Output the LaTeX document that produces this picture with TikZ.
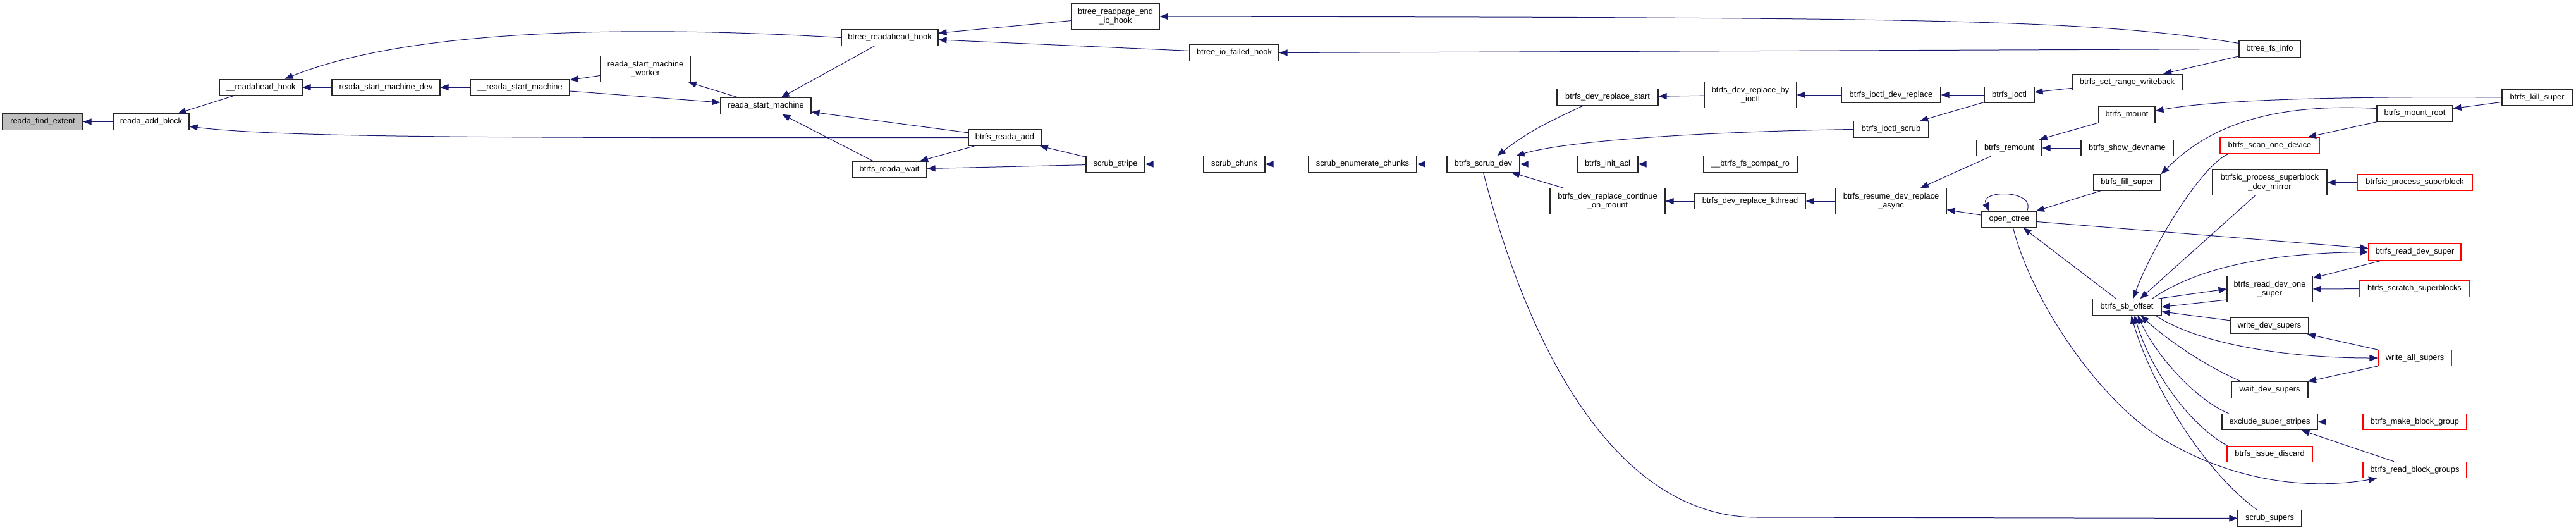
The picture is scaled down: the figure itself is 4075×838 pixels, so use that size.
\documentclass[tikz,border=0pt]{standalone}
\usepackage{fontspec}
\setmainfont{Liberation Sans}
\usepackage{tikz}
\usetikzlibrary{arrows.meta}
\definecolor{graphEdge}{HTML}{191970}
\definecolor{graphRoot}{HTML}{BFBFBF}
\definecolor{graphTrunc}{HTML}{FF0000}
\tikzset{
  fnbox/.style={draw=black!85, fill=white, line width=1.1pt, inner sep=0pt, minimum height=25.5pt, align=center, font=\fontsize{12.8}{14.3}\selectfont},
  fnroot/.style={fnbox, fill=graphRoot},
  fntrunc/.style={fnbox, draw=graphTrunc},
  fntwo/.style={minimum height=40.5pt},
  fnarrow/.style={-{Triangle[length=13pt,width=10pt]}, line width=1pt, draw=graphEdge}
}
\begin{document}
\begin{tikzpicture}[x=1pt, y=-1pt]
    \useasboundingbox (0,0) rectangle (4075,838);

    \node[fnroot, minimum width=127pt] (find) at (67.5,192.5) {reada\_find\_extent};
    \node[fnbox, minimum width=120pt] (addblk) at (239,192.5) {reada\_add\_block};
    \node[fnbox, minimum width=131pt] (rahook) at (412.5,138) {\_\_readahead\_hook};
    \node[fnbox, minimum width=171pt] (rsmdev) at (610.5,138) {reada\_start\_machine\_dev};
    \node[fnbox, minimum width=157pt] (rsm2) at (822.5,138) {\_\_reada\_start\_machine};
    \node[fnbox, fntwo, minimum width=142pt] (worker) at (1021,109) {reada\_start\_machine\\\_worker};
    \node[fnbox, minimum width=143pt] (rsm) at (1211.5,167.5) {reada\_start\_machine};
    \node[fnbox, minimum width=153pt] (brahook) at (1407.5,59.5) {btree\_readahead\_hook};
    \node[fnbox, minimum width=118pt] (rwait) at (1407,268) {btrfs\_reada\_wait};
    \node[fnbox, minimum width=115pt] (radd) at (1589.5,217.5) {btrfs\_reada\_add};
    \node[fnbox, fntwo, minimum width=139pt] (endio) at (1764.5,26) {btree\_readpage\_end\\\_io\_hook};
    \node[fnbox, minimum width=93pt] (stripe) at (1764.5,259.5) {scrub\_stripe};
    \node[fnbox, minimum width=141pt] (failed) at (1952.5,83.5) {btree\_io\_failed\_hook};
    \node[fnbox, minimum width=97pt] (chunk) at (1952.5,259.5) {scrub\_chunk};
    \node[fnbox, minimum width=171pt] (enum) at (2155.5,259.5) {scrub\_enumerate\_chunks};
    \node[fnbox, minimum width=115pt] (scrubdev) at (2346.5,259.5) {btrfs\_scrub\_dev};
    \node[fnbox, minimum width=160pt] (drstart) at (2543,153.5) {btrfs\_dev\_replace\_start};
    \node[fnbox, minimum width=96pt] (initacl) at (2543,259.5) {btrfs\_init\_acl};
    \node[fnbox, fntwo, minimum width=182pt] (contmount) at (2543,318) {btrfs\_dev\_replace\_continue\\\_on\_mount};
    \node[fnbox, fntwo, minimum width=146pt] (byioctl) at (2769,150) {btrfs\_dev\_replace\_by\\\_ioctl};
    \node[fnbox, minimum width=148pt] (compat) at (2769,259.5) {\_\_btrfs\_fs\_compat\_ro};
    \node[fnbox, minimum width=175pt] (kthread) at (2768.5,318) {btrfs\_dev\_replace\_kthread};
    \node[fnbox, minimum width=157pt] (iocdr) at (2991.5,150) {btrfs\_ioctl\_dev\_replace};
    \node[fnbox, minimum width=119pt] (iocscrub) at (2991.5,204.5) {btrfs\_ioctl\_scrub};
    \node[fnbox, fntwo, minimum width=175pt] (resume) at (2991.5,318) {btrfs\_resume\_dev\_replace\\\_async};
    \node[fnbox, minimum width=79pt] (ioctl) at (3178.5,150) {btrfs\_ioctl};
    \node[fnbox, minimum width=103pt] (remount) at (3178.5,234) {btrfs\_remount};
    \node[fnbox, minimum width=87pt] (octree) at (3178.5,347) {open\_ctree};
    \node[fnbox, minimum width=174pt] (rangewb) at (3365,130) {btrfs\_set\_range\_writeback};
    \node[fnbox, minimum width=89pt] (mount) at (3364.5,181.5) {btrfs\_mount};
    \node[fnbox, minimum width=146pt] (devname) at (3365,234) {btrfs\_show\_devname};
    \node[fnbox, minimum width=106pt] (fillsup) at (3365,288.5) {btrfs\_fill\_super};
    \node[fnbox, minimum width=109pt] (sboff) at (3364.5,485.5) {btrfs\_sb\_offset};
    \node[fnbox, minimum width=97pt] (fsinfo) at (3590.5,77.5) {btree\_fs\_info};
    \node[fntrunc, minimum width=157pt] (scandev) at (3590.5,230) {btrfs\_scan\_one\_device};
    \node[fnbox, fntwo, minimum width=181pt] (devmirror) at (3590.5,288.5) {btrfsic\_process\_superblock\\\_dev\_mirror};
    \node[fnbox, fntwo, minimum width=135pt] (onesup) at (3590.5,457) {btrfs\_read\_dev\_one\\\_super};
    \node[fnbox, minimum width=124pt] (wdev) at (3590,515) {write\_dev\_supers};
    \node[fnbox, minimum width=121pt] (waitdev) at (3590.5,616.5) {wait\_dev\_supers};
    \node[fnbox, minimum width=151pt] (exclude) at (3590.5,667) {exclude\_super\_stripes};
    \node[fntrunc, minimum width=135pt] (discard) at (3590.5,718) {btrfs\_issue\_discard};
    \node[fnbox, minimum width=101pt] (scrubsup) at (3590.5,819.5) {scrub\_supers};
    \node[fnbox, minimum width=120pt] (mountroot) at (3820,179.5) {btrfs\_mount\_root};
    \node[fntrunc, minimum width=182pt] (procsb) at (3820,288.5) {btrfsic\_process\_superblock};
    \node[fntrunc, minimum width=146pt] (readsup) at (3820,398.5) {btrfs\_read\_dev\_super};
    \node[fntrunc, minimum width=175pt] (scratch) at (3819.5,456.5) {btrfs\_scratch\_superblocks};
    \node[fntrunc, minimum width=116pt] (wall) at (3820,566) {write\_all\_supers};
    \node[fntrunc, minimum width=164pt] (mkbg) at (3820,667) {btrfs\_make\_block\_group};
    \node[fntrunc, minimum width=164pt] (rbg) at (3820,743) {btrfs\_read\_block\_groups};
    \node[fnbox, minimum width=111pt] (kill) at (4013.5,154) {btrfs\_kill\_super};

    \draw[fnarrow] (addblk) -- (find);
    \draw[fnarrow] (rahook) -- (addblk);
    \draw[fnarrow] (radd.west) .. controls (800,218) and (450,218) .. ([yshift=-7.5pt]addblk.east);
    \draw[fnarrow] (rsmdev) -- (rahook);
    \draw[fnarrow] (brahook.west) .. controls (1000,40) and (650,45) .. ([xshift=38pt]rahook.north);
    \draw[fnarrow] (rsm2) -- (rsmdev);
    \draw[fnarrow] (worker) -- (rsm2);
    \draw[fnarrow] (rsm2) -- (rsm);
    \draw[fnarrow] (rsm) -- (worker);
    \draw[fnarrow] (brahook) -- (rsm);
    \draw[fnarrow] (radd) -- (rsm);
    \draw[fnarrow] (rwait) -- (rsm);
    \draw[fnarrow] (endio) -- (brahook);
    \draw[fnarrow] (failed) -- (brahook);
    \draw[fnarrow] (radd) -- (rwait);
    \draw[fnarrow] (stripe) -- (radd);
    \draw[fnarrow] (stripe) -- (rwait);
    \draw[fnarrow] (chunk) -- (stripe);
    \draw[fnarrow] ([yshift=9pt]fsinfo.west) .. controls (3300,28) and (3000,28) .. (endio.east);
    \draw[fnarrow] (fsinfo.west) -- (failed.east);
    \draw[fnarrow] (enum) -- (chunk);
    \draw[fnarrow] (scrubdev) -- (enum);
    \draw[fnarrow] ([xshift=-38pt]drstart.south) to[out=-155,in=38] ([xshift=22pt]scrubdev.north);
    \draw[fnarrow] (iocscrub.west) .. controls (2700,208) and (2480,222) .. ([xshift=-6pt]scrubdev.north east);
    \draw[fnarrow] (initacl) -- (scrubdev);
    \draw[fnarrow] (contmount) -- (scrubdev);
    \draw[fnarrow] (scrubdev.south) .. controls (2420,560) and (2560,818) .. (2780,818) -- (scrubsup.west);
    \draw[fnarrow] (byioctl) -- (drstart);
    \draw[fnarrow] (compat) -- (initacl);
    \draw[fnarrow] (kthread) -- (contmount);
    \draw[fnarrow] (iocdr) -- (byioctl);
    \draw[fnarrow] (ioctl) -- (iocdr);
    \draw[fnarrow] (ioctl) -- (iocscrub);
    \draw[fnarrow] (resume) -- (kthread);
    \draw[fnarrow] (remount) -- (resume);
    \draw[fnarrow] (octree) -- (resume);
    \draw[fnarrow] ([xshift=28pt]octree.north) .. controls +(15,-34) and +(-15,-34) .. ([xshift=-32pt]octree.north);
    \draw[fnarrow] (rangewb) -- (ioctl);
    \draw[fnarrow] (mount) -- (remount);
    \draw[fnarrow] (devname) -- (remount);
    \draw[fnarrow] (fillsup) -- (octree);
    \draw[fnarrow] (fsinfo) -- (rangewb);
    \draw[fnarrow] (kill.west) .. controls (3700,152) and (3500,158) .. ([yshift=6pt]mount.east);
    \draw[fnarrow] (kill) -- (mountroot);
    \draw[fnarrow] ([yshift=8pt]mountroot.west) .. controls (3550,160) and (3470,225) .. (fillsup.north east);
    \draw[fnarrow] (mountroot) -- (scandev);
    \draw[fnarrow] ([xshift=-65pt]scandev.south) .. controls (3480,262) and (3400,400) .. ([xshift=10pt]sboff.north);
    \draw[fnarrow] (devmirror) -- ([xshift=21pt]sboff.north);
    \draw[fnarrow] (procsb) -- (devmirror);
    \draw[fnarrow] (octree) -- (readsup);
    \draw[fnarrow] ([xshift=-15pt]sboff.north east) .. controls (3480,420) and (3600,400) .. (readsup.west);
    \draw[fnarrow] (readsup) -- (onesup);
    \draw[fnarrow] ([xshift=-6pt]sboff.north east) -- (onesup.west);
    \draw[fnarrow] ([yshift=-17pt]onesup.west) -- (sboff.east);
    \draw[fnarrow] (scratch) -- (onesup);
    \draw[fnarrow] (wdev) -- (sboff);
    \draw[fnarrow] (wall) -- (wdev);
    \draw[fnarrow] ([xshift=-10pt]sboff.south east) .. controls (3480,545) and (3620,566) .. (wall.west);
    \draw[fnarrow] (wall) -- (waitdev);
    \draw[fnarrow] ([xshift=-45pt]waitdev.north) .. controls (3480,575) and (3420,530) .. ([xshift=22pt]sboff.south);
    \draw[fnarrow] ([xshift=-65pt]exclude.north) .. controls (3470,630) and (3410,560) .. ([xshift=17pt]sboff.south);
    \draw[fnarrow] (mkbg) -- (exclude);
    \draw[fnarrow] ([xshift=-33pt]rbg.north) -- ([xshift=50pt]exclude.south);
    \draw[fnarrow] ([xshift=-67pt]discard.north) .. controls (3460,670) and (3400,580) .. ([xshift=12pt]sboff.south);
    \draw[fnarrow] ([xshift=-20pt]scrubsup.north) .. controls (3480,740) and (3400,600) .. ([xshift=7pt]sboff.south);
    \draw[fnarrow] ([xshift=-17pt]sboff.north) -- ([xshift=22pt]octree.south);
    \draw[fnarrow] ([xshift=6pt]octree.south) .. controls (3215,480) and (3330,650) .. (3440,705) .. controls (3540,760) and (3650,775) .. ([xshift=-60pt]rbg.south);
  \end{tikzpicture}
\end{document}
